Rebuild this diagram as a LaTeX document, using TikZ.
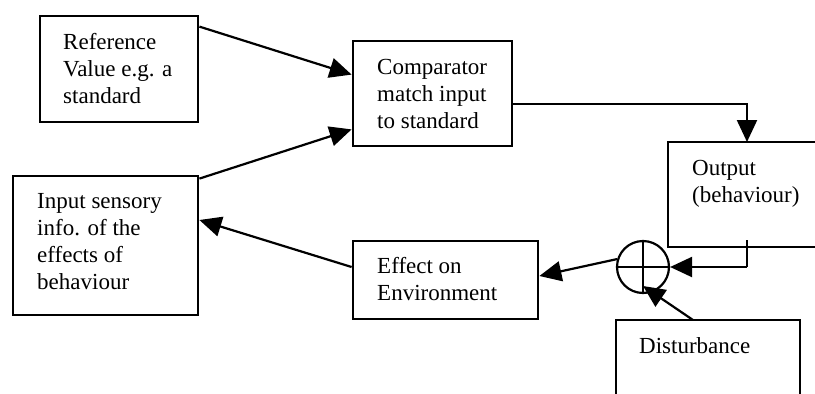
\documentclass[tikz,border=0pt]{standalone}
\usepackage{fontspec}
\setmainfont{Liberation Serif}
\usetikzlibrary{arrows.meta}
\begin{document}
\begin{tikzpicture}[x=1pt,y=-1pt,
  box/.style={draw, line width=2.8pt, inner sep=0pt, rectangle},
  txt/.style={anchor=north west, inner sep=0pt, align=left,
    font=\fontsize{23}{27}\selectfont},
  conn/.style={line width=2.2pt},
  arr/.style={conn, -{Triangle[length=22pt,width=20pt]}}]
\useasboundingbox (0,0) rectangle (815,394);
\clip (0,0) rectangle (815,394);
% boxes
\node[box, minimum width=158pt, minimum height=106pt] (ref) at (119,69) {};
\node[box, minimum width=159pt, minimum height=105pt] (comp) at (432.5,93.5) {};
\node[box, minimum width=185pt, minimum height=139pt] (inp) at (105.5,245.5) {};
\node[box, minimum width=185pt, minimum height=78pt] (eff) at (445.5,280) {};
\node[box, minimum width=172pt, minimum height=105pt] (out) at (754,194.5) {};
\node[box, minimum width=184pt, minimum height=110pt] (dist) at (708,375) {};
\node[draw, circle, line width=2.2pt, minimum size=52pt, inner sep=0pt] (sum) at (643,267) {};
\draw[line width=2.2pt] (sum.north) -- (sum.south) (sum.west) -- (sum.east);
% texts
\node[txt] (reft) at (63,30.1) {\strut Reference\\Value e.g. a\\standard};
\node[txt] (compt) at (377,55.1) {\strut Comparator\\match input\\to standard};
\node[txt] (inpt) at (37,189.1) {\strut Input sensory\\info. of the\\effects of\\behaviour};
\node[txt] (efft) at (377,254.1) {\strut Effect on\\Environment};
\node[txt] (outt) at (692,156.1) {\strut Output\\(behaviour)};
\node[txt] (distt) at (639,334.1) {\strut Disturbance};
% coordinates
\coordinate (c1) at (512,104);
\coordinate (drop) at (747,142);
\coordinate (o1) at (747,240);
\coordinate (o2) at (747,267);
\coordinate (d1) at (693,320);
\coordinate (d2) at (643,286);
% connectors
\draw[arr] ([yshift=-12pt]ref.north east) -- ([yshift=-35pt]comp.north west);
\draw[arr] ([yshift=-4pt]inp.north east) -- ([yshift=18pt]comp.south west);
\draw[arr] (c1) -| (drop);
\draw[conn] (o1) -- (o2);
\draw[arr] (o2) -- (sum.east);
\draw[arr] (d1) -- (d2);
\draw[arr] (sum.163) -- ([yshift=4pt]eff.east);
\draw[arr] ([yshift=13pt]eff.west) -- ([yshift=25.5pt]inp.east);
\end{tikzpicture}
\end{document}
